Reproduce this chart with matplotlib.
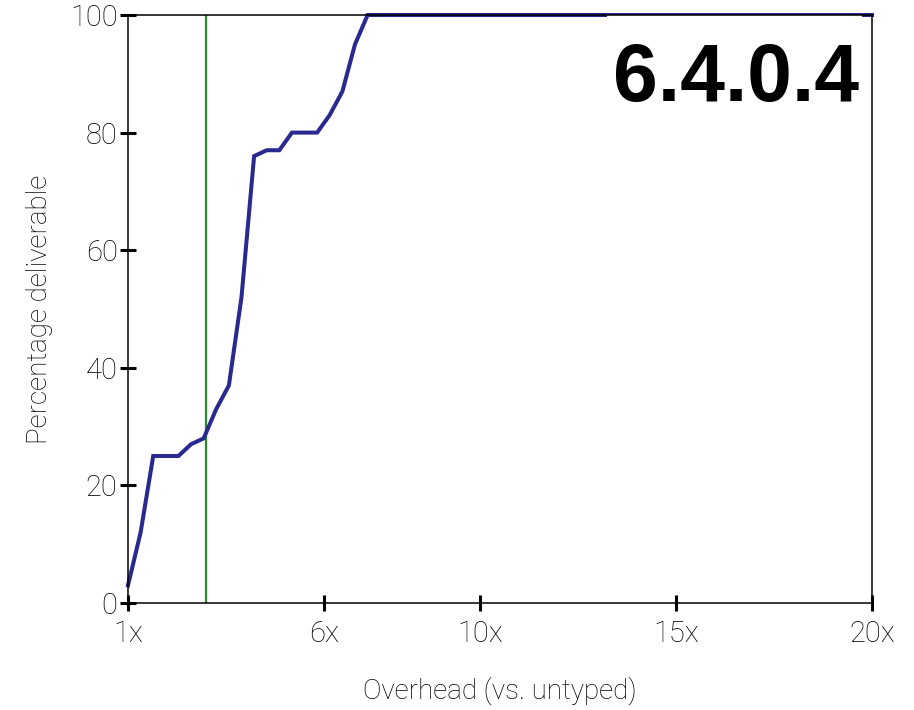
import numpy as np
import matplotlib
matplotlib.use("Agg")
import matplotlib.pyplot as plt
from matplotlib.patches import Rectangle

# Overhead factors sampled evenly from 1x to 20x
overhead = np.linspace(1, 20, 60)
deliverable = [3, 12, 25, 25, 25, 27, 28, 33, 37, 52,
               76, 77, 77, 80, 80, 80, 83, 87, 95] + [100] * 41
threshold = 3
version = "6.4.0.4"

xticks = [1, 6, 10, 15, 20]
xtick_labels = ["1x", "6x", "10x", "15x", "20x"]
yticks = [0, 20, 40, 60, 80, 100]

plt.rcParams["font.family"] = ["Roboto", "DejaVu Sans"]

fig = plt.figure(figsize=(9.14, 7.10), dpi=100)
ax = fig.add_axes([128 / 914, 1 - 603 / 710, (872 - 128) / 914, (603 - 15) / 710])

ax.plot(overhead, deliverable, color="#29298f", lw=2.9, clip_on=False, zorder=2,
        solid_joinstyle="miter")
ax.axvline(threshold, color="#2a8c2a", lw=1.6, zorder=1.9)

ax.set_xlim(1, 20)
ax.set_ylim(0, 100)
ax.set_xticks(xticks)
ax.set_xticklabels(xtick_labels)
ax.set_yticks(yticks)

for s in ax.spines.values():
    s.set_linewidth(1.1)
    s.set_color("black")
    s.set_zorder(2.5)

ax.tick_params(axis="both", direction="inout", length=11, width=2.2,
               labelsize=21, colors="black")
ax.tick_params(axis="x", pad=7)
ax.tick_params(axis="y", pad=2)
for lbl in ax.get_xticklabels() + ax.get_yticklabels():
    lbl.set_fontweight("light")

ax.set_xlabel("Overhead (vs. untyped)", fontsize=20, fontweight="light", labelpad=20)
ax.set_ylabel("Percentage deliverable", fontsize=20, fontweight="light", labelpad=12)

# White panel behind the version label
ax.add_patch(Rectangle((0.6438, 0.838), 0.3428, 0.162, transform=ax.transAxes,
                       fc="white", ec="none", zorder=2.2, clip_on=False))
ax.text(0.9825, 0.8537, version, transform=ax.transAxes, ha="right", va="baseline",
        fontsize=58, fontweight="bold", family="Liberation Sans", zorder=2.3)

fig.savefig("out.png", dpi=100)
